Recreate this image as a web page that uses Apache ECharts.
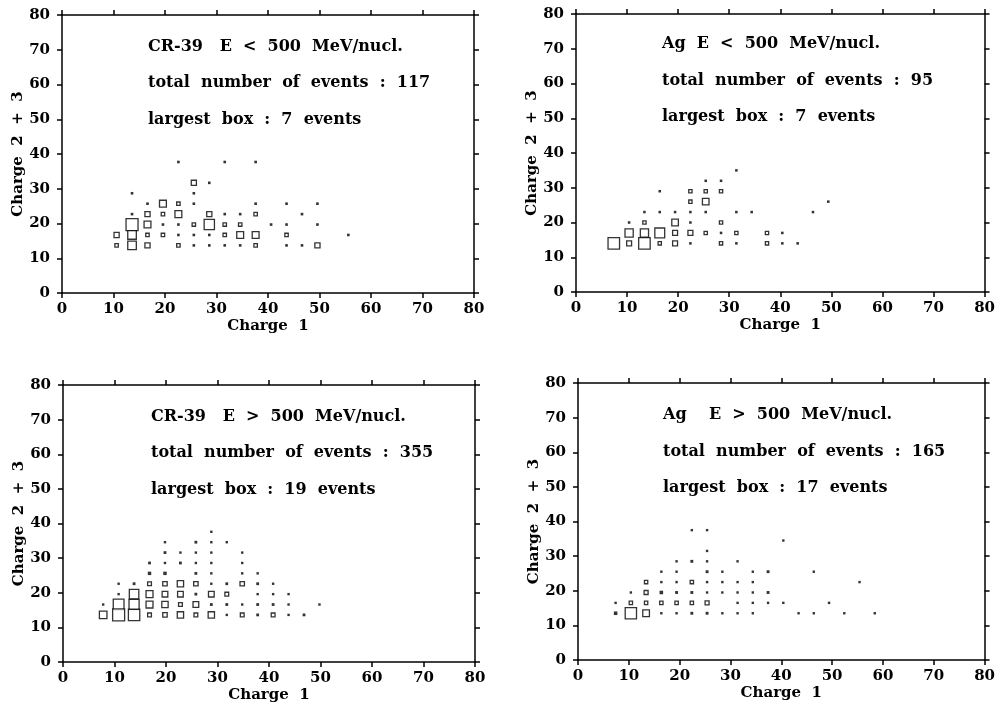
<!DOCTYPE html>
<html><head><meta charset="utf-8">
<script src="https://cdn.jsdelivr.net/npm/echarts@6/dist/echarts.min.js"></script>
<style>html,body{margin:0;padding:0;background:#fff}#c{width:998px;height:704px}</style>
</head><body><div id="c"></div>
<script>
// tick labels (both axes, all panels)
const axisTicks = [0, 10, 20, 30, 40, 50, 60, 70, 80];

// [Charge 1, Charge 2 + 3, number of events]
const cr39Low = [
  [22.6,37.7,1],[31.6,37.7,1],[37.6,37.7,1],
  [25.6,31.7,3],[28.6,31.7,1],
  [13.6,28.7,1],[25.6,28.7,1],
  [16.6,25.7,1],[19.6,25.7,4],[22.6,25.7,2],[25.6,25.7,1],[37.6,25.7,1],[43.6,25.7,1],[49.6,25.7,1],
  [13.6,22.7,1],[16.6,22.7,3],[19.6,22.7,2],[22.6,22.7,4],[28.6,22.7,3],[31.6,22.7,1],[34.6,22.7,1],[37.6,22.7,2],[46.6,22.7,1],
  [13.6,19.7,7],[16.6,19.7,4],[19.6,19.7,1],[22.6,19.7,1],[25.6,19.7,2],[28.6,19.7,6],[31.6,19.7,2],[34.6,19.7,2],[40.6,19.7,1],[43.6,19.7,1],[49.6,19.7,1],
  [10.6,16.7,3],[13.6,16.7,5],[16.6,16.7,2],[19.6,16.7,2],[22.6,16.7,1],[25.6,16.7,1],[28.6,16.7,1],[31.6,16.7,2],[34.6,16.7,4],[37.6,16.7,4],[43.6,16.7,2],[55.6,16.7,1],
  [10.6,13.7,2],[13.6,13.7,5],[16.6,13.7,3],[22.6,13.7,2],[25.6,13.7,1],[28.6,13.7,1],[31.6,13.7,1],[34.6,13.7,1],[37.6,13.7,2],[43.6,13.7,1],[46.6,13.7,1],[49.6,13.7,3]
];
const agLow = [
  [31.4,35,1],
  [25.4,32,1],[28.4,32,1],
  [16.4,29,1],[22.4,29,2],[25.4,29,2],[28.4,29,2],
  [22.4,26,2],[25.4,26,4],[49.4,26,1],
  [13.4,23,1],[16.4,23,1],[19.4,23,1],[22.4,23,1],[25.4,23,1],[31.4,23,1],[34.4,23,1],[46.4,23,1],
  [10.4,20,1],[13.4,20,2],[19.4,20,4],[22.4,20,1],[28.4,20,2],
  [10.4,17,5],[13.4,17,5],[16.4,17,6],[19.4,17,3],[22.4,17,3],[25.4,17,2],[28.4,17,1],[31.4,17,2],[37.4,17,2],[40.4,17,1],
  [7.4,14,7],[10.4,14,3],[13.4,14,7],[16.4,14,2],[19.4,14,3],[22.4,14,1],[28.4,14,2],[31.4,14,1],[37.4,14,2],[40.4,14,1],[43.4,14,1]
];
const cr39High = [
  [28.8,37.6,1],
  [19.8,34.6,1],[25.8,34.6,3],[28.8,34.6,1],[31.8,34.6,1],
  [19.8,31.6,3],[22.8,31.6,2],[25.8,31.6,2],[28.8,31.6,1],[34.8,31.6,1],
  [16.8,28.6,3],[19.8,28.6,2],[22.8,28.6,3],[25.8,28.6,1],[28.8,28.6,1],[34.8,28.6,1],
  [16.8,25.6,4],[19.8,25.6,4],[25.8,25.6,3],[28.8,25.6,1],[34.8,25.6,1],[37.8,25.6,2],
  [10.8,22.6,1],[13.8,22.6,3],[16.8,22.6,6],[19.8,22.6,7],[22.8,22.6,10],[25.8,22.6,7],[28.8,22.6,1],[31.8,22.6,3],[34.8,22.6,7],[37.8,22.6,3],[40.8,22.6,2],
  [10.8,19.6,2],[13.8,19.6,15],[16.8,19.6,11],[19.8,19.6,9],[22.8,19.6,9],[25.8,19.6,3],[28.8,19.6,9],[31.8,19.6,6],[37.8,19.6,1],[40.8,19.6,1],[43.8,19.6,1],
  [7.8,16.6,1],[10.8,16.6,17],[13.8,16.6,16],[16.8,16.6,11],[19.8,16.6,10],[22.8,16.6,6],[25.8,16.6,9],[28.8,16.6,3],[31.8,16.6,3],[34.8,16.6,2],[37.8,16.6,3],[40.8,16.6,3],[43.8,16.6,2],[49.8,16.6,1],
  [7.8,13.6,12],[10.8,13.6,19],[13.8,13.6,18],[16.8,13.6,6],[19.8,13.6,7],[22.8,13.6,10],[25.8,13.6,6],[28.8,13.6,10],[31.8,13.6,1],[34.8,13.6,6],[37.8,13.6,3],[40.8,13.6,6],[43.8,13.6,2],[46.8,13.6,3]
];
const agHigh = [
  [22.4,37.5,2],[25.4,37.5,2],
  [40.4,34.5,2],
  [25.4,31.5,1],
  [19.4,28.5,1],[22.4,28.5,3],[25.4,28.5,1],[31.4,28.5,1],
  [16.4,25.5,2],[19.4,25.5,1],[25.4,25.5,3],[28.4,25.5,2],[34.4,25.5,1],[37.4,25.5,3],[46.4,25.5,2],
  [13.4,22.5,5],[16.4,22.5,2],[19.4,22.5,2],[22.4,22.5,5],[25.4,22.5,1],[28.4,22.5,2],[31.4,22.5,1],[34.4,22.5,1],[55.4,22.5,2],
  [10.4,19.5,2],[13.4,19.5,6],[16.4,19.5,4],[19.4,19.5,3],[22.4,19.5,3],[25.4,19.5,2],[28.4,19.5,2],[31.4,19.5,2],[34.4,19.5,2],[37.4,19.5,3],
  [7.4,16.5,1],[10.4,16.5,5],[13.4,16.5,5],[16.4,16.5,5],[19.4,16.5,5],[22.4,16.5,5],[25.4,16.5,6],[31.4,16.5,1],[34.4,16.5,2],[37.4,16.5,1],[40.4,16.5,1],[49.4,16.5,2],
  [7.4,13.5,4],[10.4,13.5,17],[13.4,13.5,10],[16.4,13.5,2],[19.4,13.5,2],[22.4,13.5,3],[25.4,13.5,3],[28.4,13.5,1],[31.4,13.5,1],[34.4,13.5,2],[43.4,13.5,1],[46.4,13.5,1],[52.4,13.5,1],[58.4,13.5,1]
];

const panelData = [cr39Low, agLow, cr39High, agHigh];
const largestBox = [7, 7, 19, 17];
const totalEvents = [117, 95, 355, 165];
const panelLabels = ['CR-39   E  <  500  MeV/nucl.', 'Ag  E  <  500  MeV/nucl.', 'CR-39   E  >  500  MeV/nucl.', 'Ag    E  >  500  MeV/nucl.'];

// layout
const grids = [
  {left: 62, top: 15, width: 412, height: 278},
  {left: 576, top: 14, width: 411, height: 278},
  {left: 63, top: 385, width: 412, height: 277},
  {left: 578, top: 383, width: 409, height: 277}
];
const maxSide = [12, 11.5, 12, 11.3];
const textPos = [[148, 46.7], [662, 44], [151, 416.7], [663, 415]];
const FONT = '"DejaVu Serif"';

const lineStyle = {color: '#000', width: 1.5};
function axisBase(gi, main) {
  return {
    type: 'value', gridIndex: gi,
    min: axisTicks[0], max: axisTicks[axisTicks.length - 1], interval: axisTicks[1] - axisTicks[0],
    axisLine: {show: true, onZero: false, lineStyle: lineStyle},
    axisTick: {show: true, inside: false, length: 5, lineStyle: lineStyle},
    axisLabel: {show: main, margin: main ? 9 : 8, color: '#000', fontFamily: FONT, fontWeight: 'bold', fontSize: 15},
    splitLine: {show: false},
    nameTextStyle: {color: '#000', fontFamily: FONT, fontWeight: 'bold', fontSize: 15}
  };
}
const xAxis = [], yAxis = [], series = [], graphic = [];
grids.forEach((g, gi) => {
  xAxis.push(Object.assign(axisBase(gi, true), {position: 'bottom', name: 'Charge  1', nameLocation: 'middle', nameGap: 26}));
  xAxis.push(Object.assign(axisBase(gi, false), {position: 'top'}));
  const ya = Object.assign(axisBase(gi, true), {position: 'left', name: 'Charge  2  +  3', nameLocation: 'middle', nameGap: 35});
  ya.axisLabel.margin = 12;
  yAxis.push(ya);
  yAxis.push(Object.assign(axisBase(gi, false), {position: 'right'}));
  const per = maxSide[gi] / largestBox[gi];
  series.push({
    type: 'scatter', xAxisIndex: 2 * gi, yAxisIndex: 2 * gi, symbol: 'rect', silent: true,
    data: panelData[gi].map(d => {
      const s = per * d[2];
      if (s < 2.8) {
        return {value: d, symbolSize: Math.max(s, 1.5) + 0.9, itemStyle: {color: '#000', borderWidth: 0}};
      }
      return {value: d, symbolSize: s, itemStyle: {color: '#fff', borderColor: '#000', borderWidth: 1.3}};
    })
  });
  const lines = [panelLabels[gi], 'total  number  of  events  :  ' + totalEvents[gi], 'largest  box  :  ' + largestBox[gi] + '  events'];
  lines.forEach((t, li) => {
    graphic.push({type: 'text', x: textPos[gi][0], y: textPos[gi][1] + li * 36.4, silent: true,
      style: {text: t, fill: '#000', font: 'bold 16px ' + FONT, verticalAlign: 'middle', align: 'left'}});
  });
});

const chart = echarts.init(document.getElementById('c'), null, {renderer: 'canvas'});
chart.setOption({
  backgroundColor: '#fff', animation: false,
  grid: grids, xAxis: xAxis, yAxis: yAxis, series: series, graphic: graphic
});
</script></body></html>
